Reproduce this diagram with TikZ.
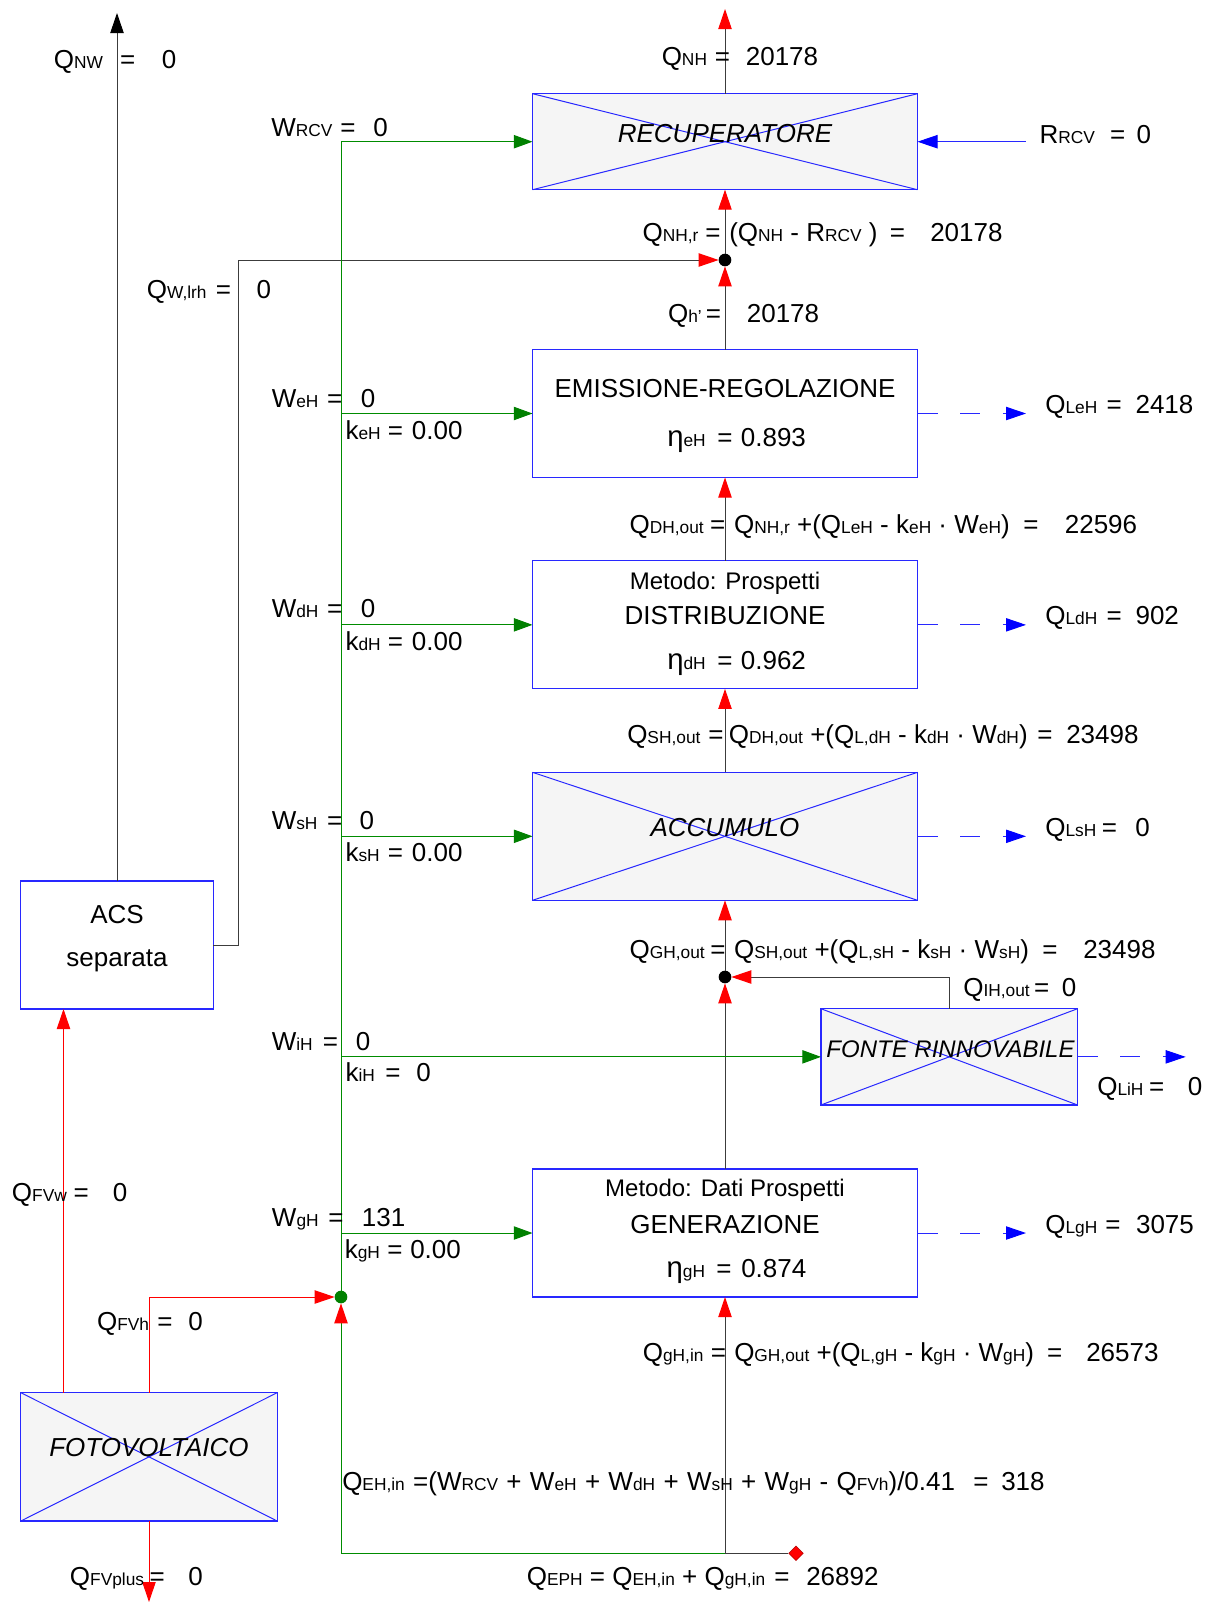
\documentclass[tikz,border=0pt]{standalone}
\usepackage{fontspec}
\setmainfont{Liberation Sans}
\usetikzlibrary{arrows.meta,shapes.geometric}
\definecolor{bx}{RGB}{40,40,255}
\definecolor{cf}{RGB}{245,245,245}
\definecolor{gn}{RGB}{0,140,0}
\definecolor{gd}{RGB}{0,128,0}
\definecolor{kk}{RGB}{60,60,60}
\definecolor{rd}{RGB}{255,0,0}
\newcommand\qs[1]{{\fontsize{13pt}{15pt}\selectfont #1}}
\newcommand\etaq{{\fontsize{22pt}{22pt}\selectfont η}}
\newcounter{tn}
\newcommand\tx[3]{\stepcounter{tn}\node[lbl] (t\arabic{tn}) at (#1,#2) {#3};}
\newcommand\tcen[3]{\stepcounter{tn}\node[lblc] (t\arabic{tn}) at (#1,#2) {#3};}
\begin{document}
\begin{tikzpicture}[x=0.75pt,y=-0.75pt,
  lbl/.style={anchor=base west,inner sep=0pt,font=\fontsize{19.5pt}{22pt}\selectfont},
  lblc/.style={anchor=base,inner sep=0pt,font=\fontsize{19.5pt}{22pt}\selectfont},
  box/.style={draw=bx,line width=0.9pt,inner sep=0pt,outer sep=0pt,minimum width=288.75pt,minimum height=96pt},
  xbox/.style={box,fill=cf},
  kl/.style={draw=kk,line width=0.75pt},
  gl/.style={draw=gn,line width=0.75pt},
  rl/.style={draw=rd,line width=0.75pt},
  bl/.style={draw=bx,line width=0.75pt},
  ra/.style={-{Triangle[length=15pt,width=10pt,color=rd,fill=rd]}},
  ga/.style={-{Triangle[length=14pt,width=10pt,color=gd,fill=gd]}},
  ba/.style={-{Triangle[length=15pt,width=10pt,color=blue,fill=blue]}},
  ka/.style={-{Triangle[length=15pt,width=10pt,color=black,fill=black]}},
  dsh/.style={dash pattern=on 15pt off 17pt},
  dot/.style={circle,inner sep=0pt,minimum size=9.5pt,outer sep=0pt}]
\useasboundingbox (0,0) rectangle (1214,1603);
% boxes
\node[xbox,minimum height=72pt] (rec) at (725,141.7) {};
\node[box] (emi) at (725,413.5) {};
\node[box] (dis) at (725,624.85) {};
\node[xbox] (acc) at (725,836.3) {};
\node[box] (gen) at (725,1233) {};
\node[xbox,minimum width=192.4pt,minimum height=72.2pt] (fon) at (949.25,1056.85) {};
\node[box,minimum width=144.5pt] (acs) at (117,945) {};
\node[xbox,minimum width=192.2pt,minimum height=96.2pt] (fv) at (149,1456.85) {};
\foreach \n in {rec,acc,fon,fv}{
  \draw[bx,line width=0.75pt] (\n.north west) -- (\n.south east);
  \draw[bx,line width=0.75pt] (\n.south west) -- (\n.north east);
}
% junctions
\node[dot,fill=black] (j1) at (725,260) {};
\node[dot,fill=black] (j2) at (725,977) {};
\node[dot,fill=gd] (jg) at (341,1297) {};
\node[diamond,fill=rd,draw=red!70!black,line width=0.4pt,inner sep=0pt,minimum width=11pt,minimum height=11pt] (dia) at (796,1553.3) {};
% coordinates
\coordinate (top) at (725,9);
\coordinate (nw) at (117,13);
\coordinate (qw) at (238.5,260);
\coordinate (rr) at (1025.6,141.7);
\coordinate (gt) at (341,141.7);
\coordinate (gb) at (341,1553.3);
\coordinate (cb) at (725,1553.3);
\coordinate (fvw) at (63.5,1392.7);
\coordinate (fvout) at (149,1602);
\coordinate (le) at (1026,413.5);
\coordinate (ld) at (1026,624.85);
\coordinate (ls) at (1026,836.3);
\coordinate (lg) at (1026,1233);
\coordinate (li) at (1185.7,1056.85);
% central chain
\draw[kl,ra] (rec.north) -- (top);
\draw[kl,ra] (j1) -- (rec.south);
\draw[kl,ra] (emi.north) -- (j1);
\draw[kl,ra] (dis.north) -- (emi.south);
\draw[kl,ra] (acc.north) -- (dis.south);
\draw[kl,ra] (j2) -- (acc.south);
\draw[kl,ra] (gen.north) -- (j2);
\draw[kl,ra] (fon.north) |- (j2);
\draw[kl,ra] (cb) -- (gen.south);
\draw[kl] (cb) -- (dia);
\draw[kl,ra] (acs.east) -| (qw) -- (j1);
\draw[kl,ka] (acs.north) -- (nw);
% blue
\draw[bl,ba] (rr) -- (rec.east);
\draw[bl,dsh,ba] (emi.east) -- (le);
\draw[bl,dsh,ba] (dis.east) -- (ld);
\draw[bl,dsh,ba] (acc.east) -- (ls);
\draw[bl,dsh,ba] (gen.east) -- (lg);
\draw[bl,dsh,ba] (fon.east) -- (li);
% green
\draw[gl] (jg.north) -- (gt);
\draw[gl,ga] (gt) -- (rec.west);
\draw[gl,ga] (jg |- emi.west) -- (emi.west);
\draw[gl,ga] (jg |- dis.west) -- (dis.west);
\draw[gl,ga] (jg |- acc.west) -- (acc.west);
\draw[gl,ga] (jg |- fon.west) -- (fon.west);
\draw[gl,ga] (jg |- gen.west) -- (gen.west);
\draw[gl] (gb) -- (cb);
\draw[gl,ra] (gb) -- (jg);
% red
\draw[rl,ra] (fv.north) |- (jg);
\draw[rl,ra] (fvw) -- (fvw |- acs.south);
\draw[rl,ra] (fv.south) -- (fvout);
% texts
\tx{53.6}{68}{Q\qs{NW}} \tx{119.8}{68}{=} \tx{161.5}{68}{0}
\tx{271}{136}{W\qs{RCV}} \tx{340}{136}{=} \tx{373}{136}{0}
\tx{146.6}{298}{Q\qs{W,lrh}} \tx{215.5}{298}{=} \tx{256.4}{298}{0}
\tx{661.5}{65}{Q\qs{NH}} \tx{714.7}{65}{=} \tx{745.6}{65}{20178}
\tx{1039.3}{143}{R\qs{RCV}} \tx{1109.8}{143}{=} \tx{1136.4}{143}{0}
\tcen{725}{142.7}{\itshape RECUPERATORE}
\tx{642.3}{241.7}{Q\qs{NH,r}} \tx{705}{241.7}{=} \tx{729}{241.7}{(Q\qs{NH} - R\qs{RCV} )} \tx{889.7}{241.7}{=} \tx{930}{241.7}{20178}
\tx{667.8}{322}{Q\qs{h'}} \tx{705.7}{322}{=} \tx{746.6}{322}{20178}
\tx{271.5}{407.3}{W\qs{eH}} \tx{326.8}{407.3}{=} \tx{360.7}{407.3}{0}
\tx{345.3}{439}{k\qs{eH}} \tx{387.7}{439}{=} \tx{411.7}{439}{0.00}
\tcen{725}{397.7}{EMISSIONE-REGOLAZIONE}
\tx{667}{446}{\etaq\qs{eH}} \tx{717}{446}{=} \tx{740.6}{446}{0.893}
\tx{1045}{413.3}{Q\qs{LeH}} \tx{1106.4}{413.3}{=} \tx{1135.3}{413.3}{2418}
\tx{629.3}{533.3}{Q\qs{DH,out}} \tx{709.9}{533.3}{=} \tx{733.8}{533.3}{Q\qs{NH,r} +(Q\qs{LeH} - k\qs{eH} · W\qs{eH})} \tx{1023}{533.3}{=} \tx{1064.6}{533.3}{22596}
\tcen{725}{589}{\fontsize{18pt}{20pt}\selectfont Metodo: Prospetti}
\tcen{725}{624.3}{DISTRIBUZIONE}
\tx{667}{669.3}{\etaq\qs{dH}} \tx{717}{669.3}{=} \tx{740.6}{669.3}{0.962}
\tx{271.5}{617.7}{W\qs{dH}} \tx{326.8}{617.7}{=} \tx{360.7}{617.7}{0}
\tx{345.3}{650}{k\qs{dH}} \tx{387.7}{650}{=} \tx{411.7}{650}{0.00}
\tx{1045}{624.3}{Q\qs{LdH}} \tx{1106.4}{624.3}{=} \tx{1135.3}{624.3}{902}
\tx{627}{743.5}{Q\qs{SH,out}} \tx{708}{743.5}{=} \tx{728.6}{743.5}{Q\qs{DH,out} +(Q\qs{L,dH} - k\qs{dH} · W\qs{dH})} \tx{1037}{743.5}{=} \tx{1066}{743.5}{23498}
\tx{271.5}{829.3}{W\qs{sH}} \tx{326.8}{829.3}{=} \tx{359.4}{829.3}{0}
\tx{345.3}{861.7}{k\qs{sH}} \tx{387.7}{861.7}{=} \tx{411.7}{861.7}{0.00}
\tcen{725}{836.7}{\itshape ACCUMULO}
\tx{1045}{836.7}{Q\qs{LsH}} \tx{1101.5}{836.7}{=} \tx{1135}{836.7}{0}
\tx{629.3}{958.3}{Q\qs{GH,out}} \tx{710}{958.3}{=} \tx{733.8}{958.3}{Q\qs{SH,out} +(Q\qs{L,sH} - k\qs{sH} · W\qs{sH})} \tx{1042}{958.3}{=} \tx{1083}{958.3}{23498}
\tx{963}{996.7}{Q\qs{IH,out}} \tx{1033.8}{996.7}{=} \tx{1061.5}{996.7}{0}
\tcen{950.5}{1057.7}{\fontsize{18pt}{20pt}\selectfont\itshape FONTE RINNOVABILE}
\tx{271.5}{1050}{W\qs{iH}} \tx{322.5}{1050}{=} \tx{355.7}{1050}{0}
\tx{345.3}{1081.7}{k\qs{iH}} \tx{385}{1081.7}{=} \tx{416}{1081.7}{0}
\tx{1097}{1095}{Q\qs{LiH}} \tx{1148.8}{1095}{=} \tx{1187.5}{1095}{0}
\tcen{117}{923.3}{ACS} \tcen{117}{966.7}{separata}
\tx{11.7}{1201.7}{Q\qs{FVw}} \tx{73.3}{1201.7}{=} \tx{112.7}{1201.7}{0}
\tx{271.7}{1226.7}{W\qs{gH}} \tx{328}{1226.7}{=} \tx{361.7}{1226.7}{131}
\tx{344.5}{1258.3}{k\qs{gH}} \tx{387}{1258.3}{=} \tx{410}{1258.3}{0.00}
\tcen{725}{1196.7}{\fontsize{18pt}{20pt}\selectfont Metodo: Dati Prospetti}
\tcen{725}{1233.3}{GENERAZIONE}
\tx{666.4}{1277.3}{\etaq\qs{gH}} \tx{716}{1277.3}{=} \tx{741}{1277.3}{0.874}
\tx{1045}{1233.3}{Q\qs{LgH}} \tx{1105}{1233.3}{=} \tx{1135.8}{1233.3}{3075}
\tx{96.8}{1330}{Q\qs{FVh}} \tx{157}{1330}{=} \tx{188}{1330}{0}
\tx{642.6}{1361.7}{Q\qs{gH,in}} \tx{710.7}{1361.7}{=} \tx{734}{1361.7}{Q\qs{GH,out} +(Q\qs{L,gH} - k\qs{gH} · W\qs{gH})} \tx{1046.8}{1361.7}{=} \tx{1086}{1361.7}{26573}
\tcen{149}{1456.7}{\itshape FOTOVOLTAICO}
\tx{342}{1490}{\spaceskip=0.32em\relax Q\qs{EH,in} =(W\qs{RCV} + W\qs{eH} + W\qs{dH} + W\qs{sH} + W\qs{gH} - Q\qs{FVh})/0.41} \tx{973}{1490}{=} \tx{1001}{1490}{318}
\tx{526.6}{1585}{Q\qs{EPH} = Q\qs{EH,in} + Q\qs{gH,in}} \tx{774}{1585}{=} \tx{806}{1585}{26892}
\tx{69.7}{1585}{Q\qs{FVplus}} \tx{149.4}{1585}{=} \tx{188}{1585}{0}
\end{tikzpicture}
\end{document}
